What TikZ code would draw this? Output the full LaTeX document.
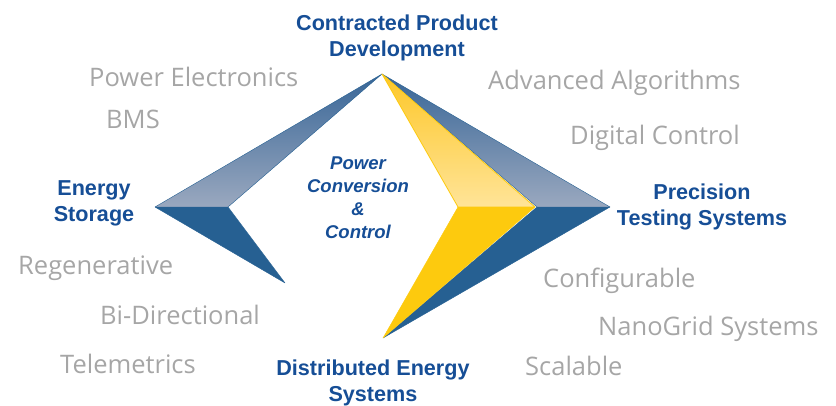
\documentclass[tikz,border=0pt]{standalone}
\usepackage{fontspec}
\setmainfont{Liberation Sans}
\newfontfamily\featfont{Open Sans}
\usetikzlibrary{positioning}
\definecolor{pcblue}{RGB}{38,96,146}
\definecolor{pcmid}{RGB}{56,102,151}
\definecolor{pclight}{RGB}{154,168,191}
\definecolor{pcyellow}{RGB}{253,202,14}
\definecolor{pcgold}{RGB}{253,199,40}
\definecolor{pcpale}{RGB}{255,228,152}
\definecolor{pctext}{RGB}{22,78,150}
\definecolor{pcgray}{RGB}{166,166,166}
\tikzset{
  market/.style={font=\bfseries\fontsize{21.6}{26}\selectfont, text=pctext, align=center, inner sep=0pt, anchor=base},
  core/.style={font=\bfseries\itshape\fontsize{18.5}{23.3}\selectfont, text=pctext, align=center, inner sep=0pt, anchor=base},
  feature/.style={font=\featfont\fontsize{25.5}{30}\selectfont, text=pcgray, inner sep=0pt, anchor=base west},
  darkface/.style={fill=pcblue, draw=pcblue, line width=0.4pt, line join=round},
  fadeface/.style={top color=pcmid, bottom color=pclight, draw=pcblue, line width=0.4pt, line join=round},
  goldface/.style={fill=pcyellow, draw=pcyellow, line width=0.4pt, line join=round},
  paleface/.style={top color=pcgold, bottom color=pcpale, draw=pcyellow, line width=0.8pt, line join=round}
}
\begin{document}
\begin{tikzpicture}[x=1pt, y=-1pt]
  \useasboundingbox (0,0) rectangle (836,406);
  \coordinate (top) at (382,74);
  \coordinate (bot) at (383,338);
  \coordinate (ltip) at (155,207);
  \coordinate (lnotch) at (228,207);
  \coordinate (lbot) at (285,283);
  \coordinate (rtip) at (610,207);
  \coordinate (rnotch) at (537,207);
  \coordinate (ytip) at (535,207);
  \coordinate (ynotch) at (458,207);

  \path[darkface] (ltip) -- (lbot) -- (lnotch) -- cycle;
  \path[fadeface] (top) -- (ltip) -- (lnotch) -- cycle;
  \path[darkface] (rtip) -- (bot) -- (rnotch) -- cycle;
  \path[fadeface] (top) -- (rtip) -- (rnotch) -- cycle;
  \path[goldface] (ytip) -- (bot) -- (ynotch) -- cycle;
  \path[paleface] (top) -- (ytip) -- (ynotch) -- cycle;

  \node[market] (dev) at (397,57) {Contracted Product\\Development};
  \node[market] (storage) at (94,222) {Energy\\Storage};
  \node[market] (testing) at (702,226) {Precision\\Testing Systems};
  \node[market] (dist) at (373,401) {Distributed Energy\\Systems};
  \node[core] (pcc) at (358,239) {Power\\Conversion\\\&\\Control};

  \node[feature] (pe) at (89,87) {Power Electronics};
  \node[feature] (bms) at (106,129) {BMS};
  \node[feature] (algo) at (488,90) {Advanced Algorithms};
  \node[feature] (digital) at (570,145) {Digital Control};
  \node[feature] (regen) at (18,275) {Regenerative};
  \node[feature] (bidir) at (100,325) {Bi-Directional};
  \node[feature] (tele) at (60,373) {Telemetrics};
  \node[feature] (config) at (543,288) {Configurable};
  \node[feature] (nano) at (598,335) {NanoGrid Systems};
  \node[feature] (scal) at (525,375) {Scalable};
\end{tikzpicture}
\end{document}
